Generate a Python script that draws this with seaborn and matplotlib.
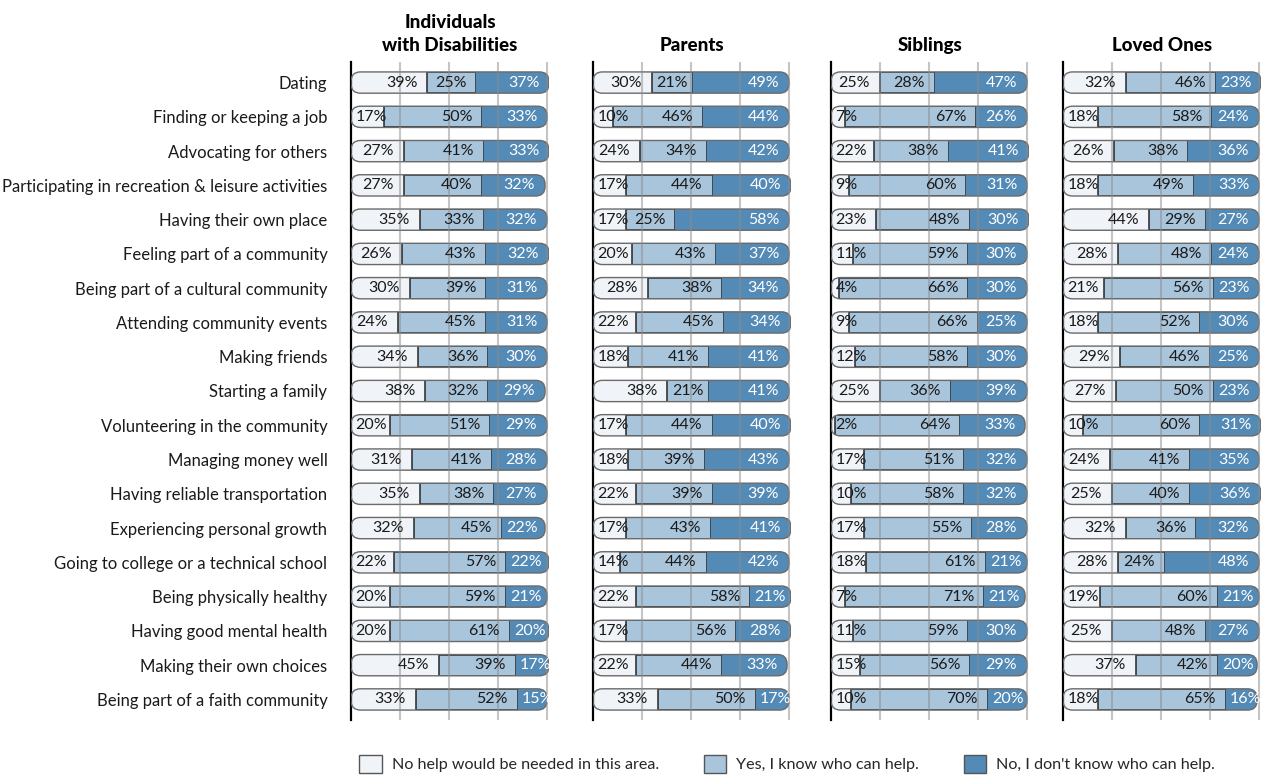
import matplotlib
matplotlib.use("Agg")
import matplotlib.pyplot as plt
from matplotlib.patches import FancyBboxPatch, Patch
import pandas as pd
import seaborn as sns

categories = [
    "Dating",
    "Finding or keeping a job",
    "Advocating for others",
    "Participating in recreation & leisure activities",
    "Having their own place",
    "Feeling part of a community",
    "Being part of a cultural community",
    "Attending community events",
    "Making friends",
    "Starting a family",
    "Volunteering in the community",
    "Managing money well",
    "Having reliable transportation",
    "Experiencing personal growth",
    "Going to college or a technical school",
    "Being physically healthy",
    "Having good mental health",
    "Making their own choices",
    "Being part of a faith community",
]

groups = ["Individuals\nwith Disabilities", "Parents", "Siblings", "Loved Ones"]
responses = [
    "No help would be needed in this area.",
    "Yes, I know who can help.",
    "No, I don't know who can help.",
]

# Percent of respondents per answer, one list per group and answer
ind_none = [39, 17, 27, 27, 35, 26, 30, 24, 34, 38, 20, 31, 35, 32, 22, 20, 20, 45, 33]
ind_yes = [25, 50, 41, 40, 33, 43, 39, 45, 36, 32, 51, 41, 38, 45, 57, 59, 61, 39, 52]
ind_no = [37, 33, 33, 32, 32, 32, 31, 31, 30, 29, 29, 28, 27, 22, 22, 21, 20, 17, 15]

par_none = [30, 10, 24, 17, 17, 20, 28, 22, 18, 38, 17, 18, 22, 17, 14, 22, 17, 22, 33]
par_yes = [21, 46, 34, 44, 25, 43, 38, 45, 41, 21, 44, 39, 39, 43, 44, 58, 56, 44, 50]
par_no = [49, 44, 42, 40, 58, 37, 34, 34, 41, 41, 40, 43, 39, 41, 42, 21, 28, 33, 17]

sib_none = [25, 7, 22, 9, 23, 11, 4, 9, 12, 25, 2, 17, 10, 17, 18, 7, 11, 15, 10]
sib_yes = [28, 67, 38, 60, 48, 59, 66, 66, 58, 36, 64, 51, 58, 55, 61, 71, 59, 56, 70]
sib_no = [47, 26, 41, 31, 30, 30, 30, 25, 30, 39, 33, 32, 32, 28, 21, 21, 30, 29, 20]

lov_none = [32, 18, 26, 18, 44, 28, 21, 18, 29, 27, 10, 24, 25, 32, 28, 19, 25, 37, 18]
lov_yes = [46, 58, 38, 49, 29, 48, 56, 52, 46, 50, 60, 41, 40, 36, 24, 60, 48, 42, 65]
lov_no = [23, 24, 36, 33, 27, 24, 23, 30, 25, 23, 31, 35, 36, 32, 48, 21, 27, 20, 16]

group_values = [
    (ind_none, ind_yes, ind_no),
    (par_none, par_yes, par_no),
    (sib_none, sib_yes, sib_no),
    (lov_none, lov_yes, lov_no),
]

colors = ["#F0F4F8", "#A9C5DC", "#548AB6"]
label_colors = ["#1a1a1a", "#1a1a1a", "#ffffff"]

sns.set_theme(style="white")
plt.rcParams["font.family"] = ["Lato", "DejaVu Sans"]

W, H = 1264, 777
fig = plt.figure(figsize=(W / 100, H / 100), dpi=100)
renderer = fig.canvas.get_renderer()

panel_left = [351, 593, 831, 1063]
XMAX = 101
panel_w = 196 * XMAX / 100
top_px, bot_px = 62, 720
BAR_H = 0.62
n = len(categories)
y_lo, y_hi = -0.6, n - 0.4

px_per_x = panel_w / XMAX
px_per_y = (bot_px - top_px) / (y_hi - y_lo)
aspect = px_per_x / px_per_y
corner = 9.5 / px_per_x

for p, (title, (v_none, v_yes, v_no)) in enumerate(zip(groups, group_values)):
    df = pd.DataFrame({"category": categories, "none": v_none, "yes": v_yes, "no": v_no})
    df["mid_end"] = df["none"] + df["yes"]
    df["total"] = df["mid_end"] + df["no"]

    ax = fig.add_axes([panel_left[p] / W, 1 - bot_px / H, panel_w / W, (bot_px - top_px) / H])

    sns.barplot(data=df, x="none", y="category", orient="y", color=colors[0],
                saturation=1, width=BAR_H, errorbar=None, linewidth=0, ax=ax)
    sns.barplot(data=df, x="mid_end", y="category", orient="y", color=colors[1],
                saturation=1, width=BAR_H, errorbar=None, edgecolor="#262626",
                linewidth=1.1, ax=ax)
    sns.barplot(data=df, x="total", y="category", orient="y", color=colors[2],
                saturation=1, width=BAR_H, errorbar=None, linewidth=0, ax=ax)

    white_bars, light_bars, dark_bars = ax.containers[:3]
    ax.set_xlim(0, XMAX)
    ax.set_ylim(y_hi, y_lo)

    for i in range(n):
        light_bars[i].set_x(df["none"][i])
        light_bars[i].set_width(df["yes"][i])
        dark_bars[i].set_x(df["mid_end"][i])
        dark_bars[i].set_width(df["no"][i])

        pill = FancyBboxPatch((0, i - BAR_H / 2), df["total"][i], BAR_H,
                              boxstyle=f"round,pad=0,rounding_size={corner}",
                              mutation_aspect=aspect, facecolor="none",
                              edgecolor="#6a6a6a", linewidth=1.0, zorder=3)
        ax.add_patch(pill)
        for bar in (white_bars[i], light_bars[i], dark_bars[i]):
            bar.set_clip_path(pill)

        segments = [
            (0, df["none"][i], df["none"][i]),
            (df["none"][i], df["mid_end"][i], df["yes"][i]),
            (df["mid_end"][i], df["total"][i], df["no"][i]),
        ]
        for k, (start, end, val) in enumerate(segments):
            t = ax.text(0, i, f"{val}%", ha="left", va="center", fontsize=11.5,
                        color=label_colors[k], zorder=6)
            w = t.get_window_extent(renderer).width / px_per_x
            t.set_x(max(start + 2.2, end - 5.0 - w))

    ax.vlines([25, 50, 75, 100], y_lo, y_hi, color="#8c8c8c", alpha=0.5,
              linewidth=1.5, zorder=5)

    for side in ("top", "right", "bottom"):
        ax.spines[side].set_visible(False)
    ax.spines["left"].set_color("black")
    ax.spines["left"].set_linewidth(1.6)
    ax.set_xticks([])
    ax.set_xlabel("")
    ax.set_ylabel("")
    ax.tick_params(axis="y", length=0, pad=17, labelsize=12, labelcolor="#1a1a1a")
    if p > 0:
        ax.tick_params(axis="y", labelleft=False)

    ax.set_title(title, fontsize=13.5, fontweight="black", pad=8,
                 linespacing=1.4, color="black")

handles = [Patch(facecolor=c, edgecolor="#555555", linewidth=1.0) for c in colors]
fig.legend(handles, responses, loc="center", bbox_to_anchor=(787 / W, 1 - 764 / H),
           ncol=3, frameon=False, fontsize=11.6, handlelength=1.37, handleheight=1.37,
           handletextpad=0.62, columnspacing=2.8)

fig.savefig("out.png", dpi=100)
